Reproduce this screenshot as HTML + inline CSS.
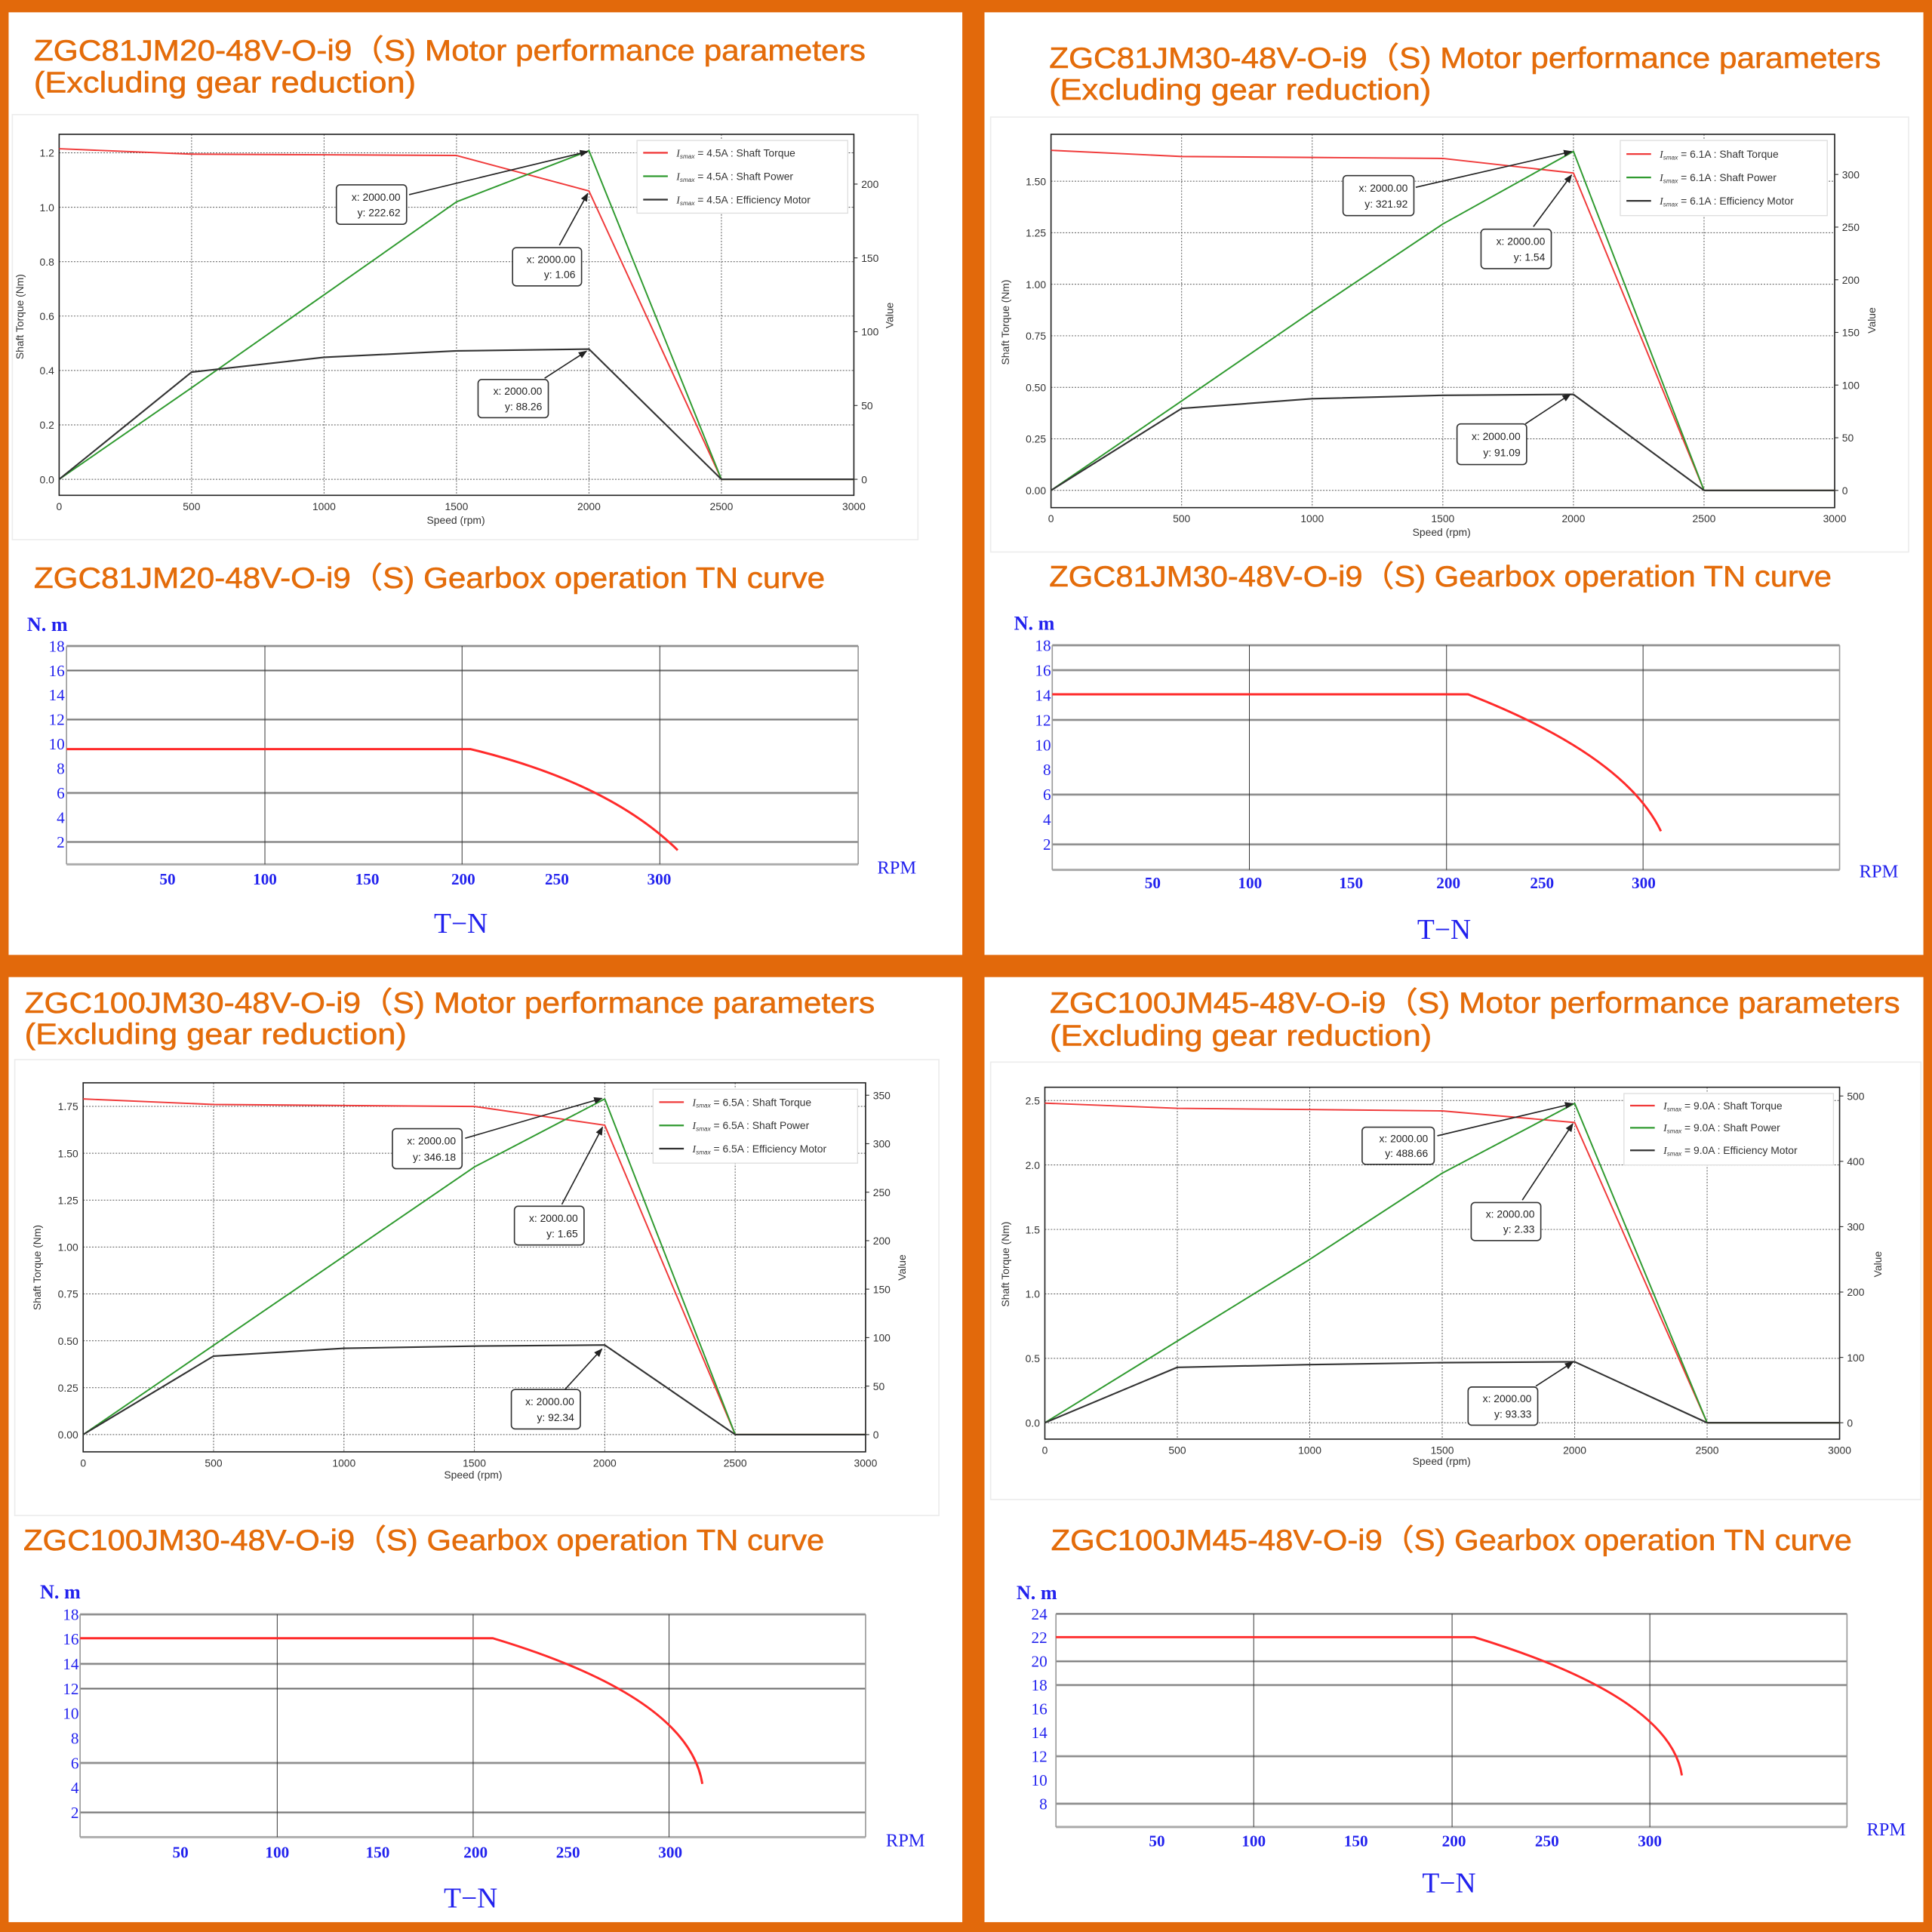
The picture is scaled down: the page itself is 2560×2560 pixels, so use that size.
<!DOCTYPE html>
<html><head><meta charset="utf-8">
<style>
html,body{margin:0;padding:0;background:#e2690b;}
svg{display:block}
</style></head>
<body>
<svg id="s" xmlns="http://www.w3.org/2000/svg" width="2560" height="2560" viewBox="0 0 1568 1568">
<defs>
<marker id="ah" viewBox="0 0 10 10" refX="9" refY="5" markerWidth="7" markerHeight="7" orient="auto-start-reverse" markerUnits="userSpaceOnUse">
<path d="M0,1 L10,5 L0,9 z" fill="#222"/>
</marker>
</defs>
<rect x="0" y="0" width="1568" height="1568" fill="#e2690b"/>
<rect x="7" y="10" width="774" height="765" fill="#fff"/>
<rect x="799" y="10" width="762" height="765" fill="#fff"/>
<rect x="7" y="793" width="774" height="767" fill="#fff"/>
<rect x="799" y="793" width="762" height="767" fill="#fff"/>
<g font-family="'Liberation Sans','Noto Sans CJK SC',sans-serif" fill="#e46c0a" stroke="#e46c0a" stroke-width="0.35" font-size="24">
<text x="27.5" y="49" textLength="675" lengthAdjust="spacingAndGlyphs">ZGC81JM20-48V-O-i9（S) Motor performance parameters</text>
<text x="27.5" y="75" textLength="310" lengthAdjust="spacingAndGlyphs">(Excluding gear reduction)</text>
<text x="27.5" y="477" textLength="642" lengthAdjust="spacingAndGlyphs">ZGC81JM20-48V-O-i9（S) Gearbox operation TN curve</text>
<text x="851.5" y="55" textLength="675" lengthAdjust="spacingAndGlyphs">ZGC81JM30-48V-O-i9（S) Motor performance parameters</text>
<text x="851.5" y="81" textLength="310" lengthAdjust="spacingAndGlyphs">(Excluding gear reduction)</text>
<text x="851.5" y="476" textLength="635" lengthAdjust="spacingAndGlyphs">ZGC81JM30-48V-O-i9（S) Gearbox operation TN curve</text>
<text x="20" y="822" textLength="690" lengthAdjust="spacingAndGlyphs">ZGC100JM30-48V-O-i9（S) Motor performance parameters</text>
<text x="20" y="847.5" textLength="310" lengthAdjust="spacingAndGlyphs">(Excluding gear reduction)</text>
<text x="19" y="1258" textLength="650" lengthAdjust="spacingAndGlyphs">ZGC100JM30-48V-O-i9（S) Gearbox operation TN curve</text>
<text x="852" y="822" textLength="690" lengthAdjust="spacingAndGlyphs">ZGC100JM45-48V-O-i9（S) Motor performance parameters</text>
<text x="852" y="848.5" textLength="310" lengthAdjust="spacingAndGlyphs">(Excluding gear reduction)</text>
<text x="853" y="1258" textLength="650" lengthAdjust="spacingAndGlyphs">ZGC100JM45-48V-O-i9（S) Gearbox operation TN curve</text>
</g>
<g id="charts"></g>
</svg>
<script>
var NS="http://www.w3.org/2000/svg";
var root=document.getElementById('charts');
function el(tag,a,txt,parent){var e=document.createElementNS(NS,tag);for(var k in a)e.setAttribute(k,a[k]);if(txt!=null)e.textContent=txt;(parent||root).appendChild(e);return e;}
var SANS="'Liberation Sans',sans-serif";
function motor(c){
  var X=function(s){return c.x0+s/3000*(c.x1-c.x0);};
  var YL=function(v){return c.y0-v*c.sL;};
  var YR=function(v){return c.y0-v*c.sR;};
  if(c.frame) el('rect',{x:c.frame[0],y:c.frame[1],width:c.frame[2],height:c.frame[3],fill:'none',stroke:'#ececec','stroke-width':1});
  // grid
  for(var s=500;s<3000;s+=500) el('line',{x1:X(s),x2:X(s),y1:c.top,y2:c.bot,stroke:'#555','stroke-width':0.6,'stroke-dasharray':'1.2,1.2'});
  c.lt.forEach(function(v){el('line',{x1:c.x0,x2:c.x1,y1:YL(v),y2:YL(v),stroke:'#555','stroke-width':0.6,'stroke-dasharray':'1.2,1.2'});
    el('text',{x:c.x0-4,y:YL(v)+3.2,'text-anchor':'end','font-family':SANS,'font-size':8.5,fill:'#333'},v.toFixed(c.dec));});
  c.rt.forEach(function(v){el('line',{x1:c.x1,x2:c.x1+3,y1:YR(v),y2:YR(v),stroke:'#333','stroke-width':0.7});
    el('text',{x:c.x1+6,y:YR(v)+3.2,'font-family':SANS,'font-size':8.5,fill:'#333'},String(v));});
  for(var s=0;s<=3000;s+=500) el('text',{x:X(s),y:c.bot+12,'text-anchor':'middle','font-family':SANS,'font-size':8.5,fill:'#333'},String(s));
  el('rect',{x:c.x0,y:c.top,width:c.x1-c.x0,height:c.bot-c.top,fill:'none',stroke:'#222','stroke-width':1});
  function pl(arr,fy,col,w){var p=arr.map(function(v,i){return X(i*500).toFixed(1)+','+fy(v).toFixed(1);}).join(' ');el('polyline',{points:p,fill:'none',stroke:col,'stroke-width':w,'stroke-linejoin':'round'});}
  pl(c.torque,YL,'#f03a3a',1.2);
  pl(c.power,YR,'#2f9a2f',1.2);
  pl(c.eff,YR,'#333',1.3);
  // legend
  var L=c.legend;
  el('rect',{x:L[0],y:L[1],width:L[2],height:L[3],fill:'#fff',stroke:'#ddd','stroke-width':0.8});
  var names=['Shaft Torque','Shaft Power','Efficiency Motor'],cols=['#f03a3a','#2f9a2f','#333'];
  for(var i=0;i<3;i++){var y=L[4][i];
    el('line',{x1:L[0]+5,x2:L[0]+25,y1:y,y2:y,stroke:cols[i],'stroke-width':1.4});
    var t=el('text',{x:L[0]+32,y:y+3,'font-family':SANS,'font-size':8.5,fill:'#333'});
    el('tspan',{'font-style':'italic','font-family':"'Liberation Serif',serif"},'I',t);
    el('tspan',{'font-size':5,dy:1.5,'font-style':'italic'},'smax',t);
    el('tspan',{dy:-1.5},' = '+c.cur+'A : '+names[i],t);}
  // annotations
  c.ann.forEach(function(a){
    el('line',{x1:a.f[0],y1:a.f[1],x2:a.to[0],y2:a.to[1],stroke:'#222','stroke-width':1,'marker-end':'url(#ah)'});
    el('rect',{x:a.b[0],y:a.b[1],width:a.b[2],height:a.b[3],rx:3,fill:'#fff',stroke:'#333','stroke-width':1});
    el('text',{x:a.b[0]+a.b[2]-5,y:a.b[1]+a.b[3]*0.40,'text-anchor':'end','font-family':SANS,'font-size':8.5,fill:'#222'},'x: 2000.00');
    el('text',{x:a.b[0]+a.b[2]-5,y:a.b[1]+a.b[3]*0.80,'text-anchor':'end','font-family':SANS,'font-size':8.5,fill:'#222'},'y: '+a.v);
  });
  el('text',{x:c.ls[0],y:c.ls[1],transform:'rotate(-90 '+c.ls[0]+' '+c.ls[1]+')','text-anchor':'middle','font-family':SANS,'font-size':8.5,fill:'#333'},'Shaft Torque  (Nm)');
  el('text',{x:c.lv[0],y:c.lv[1],transform:'rotate(-90 '+c.lv[0]+' '+c.lv[1]+')','text-anchor':'middle','font-family':SANS,'font-size':8.5,fill:'#333'},'Value');
  el('text',{x:c.lx[0],y:c.lx[1],'text-anchor':'middle','font-family':SANS,'font-size':8.5,fill:'#333'},'Speed  (rpm)');
}
var SER="'Liberation Serif',serif",BLUE="#2222ee";
function gear(c){
  var Y=function(v){return c.T+(c.vmax-v)*c.sc;};
  c.h.forEach(function(v){el('line',{x1:c.L,x2:c.R,y1:Y(v),y2:Y(v),stroke:'#aaa','stroke-width':1.8});
    el('line',{x1:c.L,x2:c.R,y1:Y(v),y2:Y(v),stroke:'#666','stroke-width':0.5});});
  el('line',{x1:c.L,x2:c.R,y1:c.B,y2:c.B,stroke:'#aaa','stroke-width':1.8});
  el('line',{x1:c.L,x2:c.L,y1:c.T,y2:c.B,stroke:'#999','stroke-width':1});
  el('line',{x1:c.R,x2:c.R,y1:c.T,y2:c.B,stroke:'#999','stroke-width':1});
  c.v.forEach(function(x){el('line',{x1:x,x2:x,y1:c.T,y2:c.B,stroke:'#333','stroke-width':0.6});});
  for(var v=c.vmax;v>=c.vmin;v-=2) el('text',{x:c.lr,y:Y(v)+4.5,'text-anchor':'end','font-family':SER,'font-size':13,fill:BLUE},String(v));
  var k=c.knee,e=c.end,m=c.mid;
  var cx=2*m[0]-0.5*(k[0]+e[0]),cy=2*m[1]-0.5*(k[1]+e[1]);
  el('path',{d:'M'+c.L+','+k[1]+' L'+k[0]+','+k[1]+' Q'+cx+','+cy+' '+e[0]+','+e[1],fill:'none',stroke:'#ff2a2a','stroke-width':1.8});
  var labs=['50','100','150','200','250','300'];
  c.xl.forEach(function(x,i){el('text',{x:x,y:c.xy,'text-anchor':'middle','font-family':SER,'font-size':13,'font-weight':'bold',fill:BLUE},labs[i]);});
  el('text',{x:c.nm[0],y:c.nm[1],'font-family':SER,'font-size':16,'font-weight':'bold',fill:BLUE},'N. m');
  el('text',{x:c.rpm[0],y:c.rpm[1],'font-family':SER,'font-size':15,fill:BLUE},'RPM');
  el('text',{x:c.tn[0],y:c.tn[1],'text-anchor':'middle','font-family':SER,'font-size':23,fill:BLUE},'T\u2212N');
}
motor({x0:48,x1:693,y0:389,sL:220.8,sR:1.198,top:109,bot:402,lt:[0,.2,.4,.6,.8,1.0,1.2],dec:1,rt:[0,50,100,150,200],
 torque:[1.215,1.195,1.193,1.19,1.06,0,0],power:[0,62,125,188,222.62,0,0],eff:[0,72.6,82.6,87,88.26,0,0],cur:'4.5',
 legend:[517,114,171,59,[124,143,162]],
 ann:[{b:[273,150,57,32],f:[332,158],to:[477,123],v:'222.62'},{b:[416,201,56,31],f:[454,199],to:[477,157],v:'1.06'},{b:[388,308,57,31],f:[442,307],to:[476,285],v:'88.26'}],
 ls:[19,257],lv:[725,256],lx:[370,425],frame:[10,93,735,345]});
motor({x0:853,x1:1489,y0:398,sL:167.3,sR:0.8547,top:109,bot:412,lt:[0,.25,.5,.75,1,1.25,1.5],dec:2,rt:[0,50,100,150,200,250,300],
 torque:[1.65,1.62,1.615,1.61,1.54,0,0],power:[0,85,170,253,321.92,0,0],eff:[0,77.8,87,90.3,91.09,0,0],cur:'6.1',
 legend:[1315,114,168,61,[125,144,163]],
 ann:[{b:[1090,142.5,57.5,32.5],f:[1149,152],to:[1275.5,123],v:'321.92'},{b:[1202,186,57,32],f:[1244.5,184],to:[1275.5,142],v:'1.54'},{b:[1182.5,344,56.5,33],f:[1238,344],to:[1274.5,320],v:'91.09'}],
 ls:[819,261.5],lv:[1522,260],lx:[1170,435],frame:[804,95,745,353]});
motor({x0:67.5,x1:702.5,y0:1164.3,sL:152.2,sR:0.7869,top:878.8,bot:1178.3,lt:[0,.25,.5,.75,1,1.25,1.5,1.75],dec:2,rt:[0,50,100,150,200,250,300,350],
 torque:[1.79,1.76,1.755,1.75,1.65,0,0],power:[0,92,184,276,346.18,0,0],eff:[0,81,89,91.2,92.34,0,0],cur:'6.5',
 legend:[530,884,166,60,[894.5,913.4,932.2]],
 ann:[{b:[318.5,916,56.5,32.5],f:[377.5,923.8],to:[488.5,891.4],v:'346.18'},{b:[417.5,979,56.5,31.4],f:[456,977.5],to:[489,914.8],v:'1.65'},{b:[415,1127.7,56,32],f:[458.5,1127.7],to:[488.5,1094.8],v:'92.34'}],
 ls:[33,1028.7],lv:[735,1028.7],lx:[384,1200],frame:[12,860,750,370]});
motor({x0:848,x1:1493,y0:1154.7,sL:104.6,sR:0.5304,top:882.4,bot:1168,lt:[0,.5,1,1.5,2,2.5],dec:1,rt:[0,100,200,300,400,500],
 torque:[2.48,2.44,2.43,2.42,2.33,0,0],power:[0,125,250,382,488.66,0,0],eff:[0,84.8,89,92,93.33,0,0],cur:'9.0',
 legend:[1318,887.5,170,58,[897.3,915.3,933.6]],
 ann:[{b:[1105.5,914.8,58.5,30.2],f:[1166.5,921.8],to:[1276.5,895.7],v:'488.66'},{b:[1194,976,56.5,30.8],f:[1235.5,974],to:[1276.5,912],v:'2.33'},{b:[1191.5,1125.7,56.5,31],f:[1246.5,1125],to:[1276.5,1105.5],v:'93.33'}],
 ls:[819,1026],lv:[1527,1026],lx:[1170,1189],frame:[804,862,755,355]});
gear({L:54,R:696.5,T:524.3,B:701.5,vmax:18,vmin:2,sc:9.94,h:[18,16,12,6,2],v:[215,375,535.5],lr:52.5,
 knee:[382,608],end:[550,690],mid:[480,642],xl:[136,215,298,376,452,535],xy:718,nm:[22,512],rpm:[712,709],tn:[374,757]});
gear({L:854,R:1493,T:523.7,B:706,vmax:18,vmin:2,sc:10.1,h:[18,16,12,6,2],v:[1014,1174,1333.5],lr:853,
 knee:[1191.5,563.5],end:[1348,674.6],mid:[1294,616],xl:[935.5,1014.5,1096.5,1175.5,1251.5,1334],xy:721,nm:[823,511],rpm:[1509,712],tn:[1172,762]});
gear({L:65,R:702.5,T:1310.2,B:1491,vmax:18,vmin:2,sc:10.05,h:[18,14,12,6,2],v:[225,384,543],lr:64,
 knee:[400,1329.6],end:[570,1447.8],mid:[522,1383],xl:[146.5,225,306.5,386,461,544],xy:1507.7,nm:[32.5,1297.3],rpm:[719,1498.4],tn:[382,1548]});
gear({L:857,R:1499,T:1309.8,B:1482.8,vmax:24,vmin:8,sc:9.63,h:[24,20,18,12,8],v:[1017.5,1178.5,1339],lr:850,
 knee:[1196.5,1328.7],end:[1365,1440.9],mid:[1318,1381],xl:[939,1017.5,1100.5,1180,1255.5,1339],xy:1498.4,nm:[825,1298],rpm:[1515,1489.5],tn:[1176,1536]});
</script>
</body></html>
